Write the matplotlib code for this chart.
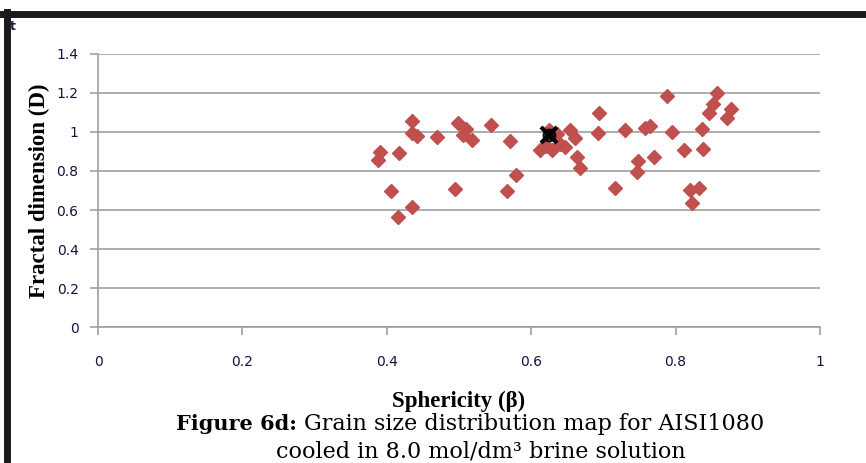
import numpy as np
import matplotlib.pyplot as plt
from matplotlib.lines import Line2D

# sphericity vs fractal dimension
sphericity = [0.388, 0.390, 0.417, 0.406, 0.415, 0.435, 0.435, 0.435, 0.442, 0.470,
              0.494, 0.499, 0.510, 0.506, 0.518, 0.544, 0.571, 0.566, 0.579, 0.612,
              0.629, 0.625, 0.647, 0.654, 0.661, 0.663, 0.668, 0.694, 0.692, 0.730,
              0.716, 0.748, 0.746, 0.770, 0.758, 0.765, 0.788, 0.795, 0.812, 0.838,
              0.837, 0.820, 0.832, 0.822, 0.857, 0.852, 0.846, 0.877, 0.871, 0.640,
              0.636, 0.620]
fractal = [0.856, 0.897, 0.892, 0.697, 0.564, 0.615, 1.056, 0.995, 0.980, 0.975,
           0.708, 1.046, 1.015, 0.985, 0.959, 1.036, 0.954, 0.697, 0.779, 0.908,
           0.908, 1.010, 0.923, 1.010, 0.969, 0.872, 0.815, 1.097, 0.995, 1.010,
           0.713, 0.851, 0.795, 0.872, 1.020, 1.031, 1.185, 1.000, 0.908, 0.913,
           1.015, 0.703, 0.713, 0.636, 1.200, 1.143, 1.097, 1.118, 1.072, 0.940,
           0.990, 0.930]
mean_point = (0.625, 0.985)

fig = plt.figure(figsize=(8.66, 4.63), dpi=100)
ax = fig.add_axes([0.1132, 0.2937, 0.8337, 0.5897])

ax.plot(sphericity, fractal, 'D', color='#c0504d', ms=7.5, mec='#c0504d', zorder=3)
ax.plot(*mean_point, 'o', color='black', ms=9, alpha=0.85, zorder=4)
ax.plot(*mean_point, 'x', color='black', ms=11, mew=3, zorder=5)

ax.set_xlim(0, 1)
ax.set_ylim(0, 1.4)
ax.set_xticks(np.arange(0, 1.01, 0.2))
ax.set_yticks(np.arange(0, 1.41, 0.2))
ax.set_xticklabels(['0', '0.2', '0.4', '0.6', '0.8', '1'])
ax.set_yticklabels(['0', '0.2', '0.4', '0.6', '0.8', '1', '1.2', '1.4'])
ax.yaxis.grid(True, color='#a0a0a0', lw=1.2)
ax.set_axisbelow(True)
for s in ['top', 'right']:
    ax.spines[s].set_visible(False)
for s in ['left', 'bottom']:
    ax.spines[s].set_color('#a0a0a0')
    ax.spines[s].set_linewidth(1.2)
ax.tick_params(direction='out', length=6, width=1.2, color='#a0a0a0',
               labelsize=10, labelcolor='#1a1040', pad=8)
ax.tick_params(axis='x', pad=14)

ax.set_xlabel('Sphericity (β)', family='Liberation Serif', weight='bold',
              fontsize=16.5, labelpad=16)
ax.set_ylabel('Fractal dimension (D)', family='Liberation Serif', weight='bold',
              fontsize=16.5, labelpad=5)

fig.text(0.203, 0.084, 'Figure 6d:', family='DejaVu Serif', weight='bold',
         fontsize=15, ha='left', va='center')
fig.text(0.351, 0.084, 'Grain size distribution map for AISI1080',
         family='DejaVu Serif', fontsize=16, ha='left', va='center')
fig.text(0.555, 0.025, 'cooled in 8.0 mol/dm³ brine solution',
         family='DejaVu Serif', fontsize=16, ha='center', va='center')

# page border bits
fig.add_artist(Line2D([0.004, 1.0], [0.970, 0.970], color='#1a1a1a', lw=5,
                      transform=fig.transFigure))
fig.add_artist(Line2D([0.008, 0.008], [0.0, 0.975], color='#1a1a1a', lw=5,
                      transform=fig.transFigure))
fig.text(0.011, 0.935, 't', fontsize=9, color='#1a1a40', weight='bold')

fig.savefig('out.png', dpi=100)
